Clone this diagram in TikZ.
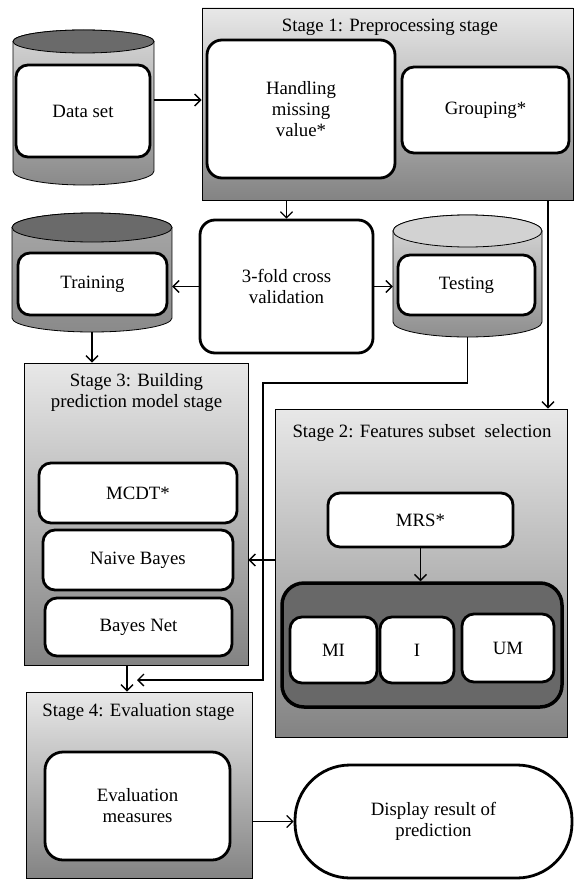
\documentclass[tikz,border=0pt]{standalone}
\usepackage{fontspec}
\setmainfont{Liberation Serif}
\usetikzlibrary{arrows.meta}
\definecolor{stTop}{HTML}{E8E8E8}
\definecolor{stBot}{HTML}{838383}
\definecolor{darkEll}{HTML}{6A6A6A}
\definecolor{dsTop}{HTML}{D6D6D6}
\definecolor{dsBot}{HTML}{8A8A8A}
\definecolor{trTop}{HTML}{A8A8A8}
\definecolor{trBot}{HTML}{8A8A8A}
\definecolor{teEll}{HTML}{D2D2D2}
\definecolor{teTop}{HTML}{DADADA}
\definecolor{teBot}{HTML}{8E8E8E}
\definecolor{contFill}{HTML}{686868}
\begin{document}
\begin{tikzpicture}[x=1pt,y=-1pt,
  every node/.style={font=\fontsize{18.8}{21}\selectfont, inner sep=0pt, align=center},
  sz/.style 2 args={minimum width=#1pt, minimum height=#2pt},
  stagebox/.style={draw=black, line width=0.9pt, top color=stTop, bottom color=stBot},
  inbox/.style={draw=black, line width=2.8pt, rounded corners=12pt, fill=white},
  cylline/.style={draw=black, line width=0.8pt},
  arr/.style={-{Straight Barb[length=6pt,width=12pt,line width=1.3pt]}, line width=1.2pt},
  link/.style={line width=1.2pt}
]
\useasboundingbox (0,0) rectangle (574,880);

% ---------- Stage boxes ----------
\node[stagebox, sz={371}{192}] (st1) at (387.5,104) {};
\node[stagebox, sz={292}{328}] (st2) at (421,573) {};
\node[stagebox, sz={224}{302}] (st3) at (136,514) {};
\node[stagebox, sz={226}{186}] (st4) at (139,785) {};

\node (t1) at (390,27) {Stage 1: Preprocessing stage};
\node (t2) at (422,433) {Stage 2: Features subset~ selection};
\node (t3) at (136.5,393) {Stage 3: Building\\prediction model stage};
\node (t4) at (138.5,712) {Stage 4: Evaluation stage};

% ---------- Cylinders ----------
% Data set
\node[sz={141}{155}] (dsCyl) at (83.5,107.5) {};
\path[cylline, top color=dsTop, bottom color=dsBot]
  (13,41.5) -- (13,171) arc[start angle=180, end angle=0, x radius=70.5, y radius=14]
  -- (154,41.5) arc[start angle=0, end angle=-180, x radius=70.5, y radius=11.5] -- cycle;
\draw[cylline, fill=darkEll] (83.5,41.5) ellipse [x radius=70.5, y radius=11.5];
% Training
\node[sz={160}{119}] (trCyl) at (92,272.5) {};
\path[cylline, top color=trTop, bottom color=trBot]
  (12,227.5) -- (12,318) arc[start angle=180, end angle=0, x radius=80, y radius=14]
  -- (172,227.5) arc[start angle=0, end angle=-180, x radius=80, y radius=14.5] -- cycle;
\draw[cylline, fill=darkEll] (92,227.5) ellipse [x radius=80, y radius=14.5];
% Testing
\node[sz={149}{122}] (teCyl) at (467.5,276) {};
\path[cylline, top color=teTop, bottom color=teBot]
  (393,231) -- (393,322) arc[start angle=180, end angle=0, x radius=74.5, y radius=15]
  -- (542,231) arc[start angle=0, end angle=-180, x radius=74.5, y radius=16] -- cycle;
\draw[cylline, fill=teEll] (467.5,231) ellipse [x radius=74.5, y radius=16];

% ---------- Inner boxes ----------
\node[inbox, sz={134}{92}] (ds) at (83,111) {Data set};
\node[inbox, sz={188}{138}, rounded corners=15pt] (hand) at (301,109) {Handling\\missing\\value*};
\node[inbox, sz={167}{86}] (grp) at (485.5,110) {Grouping*};
\node[inbox, sz={173}{133}, rounded corners=15pt] (tf) at (286.5,286.5) {3-fold cross\\validation};
\node[inbox, sz={149}{62}] (tr) at (92.5,284) {Training};
\node[inbox, sz={137}{60}] (te) at (466.5,285) {Testing};

\node[inbox, sz={198}{60}] (mcdt) at (138,493) {MCDT*};
\node[inbox, sz={190}{60}] (nb) at (138,560) {Naive Bayes};
\node[inbox, sz={187}{58}] (bn) at (138.5,627) {Bayes Net};

\node[inbox, sz={185}{54}] (mrs) at (420.5,520) {MRS*};
\node[draw=black, line width=3.5pt, rounded corners=22pt, fill=contFill, sz={280}{124}] (cont) at (422,645) {};
\node[inbox, sz={87}{66}] (mi) at (333.5,650) {MI};
\node[inbox, sz={74}{66}] (ii) at (417,650) {I};
\node[inbox, sz={92}{68}] (um) at (508,648) {UM};

\node[inbox, sz={185}{108}, rounded corners=18pt] (ev) at (137.5,806) {Evaluation\\measures};
\node[draw=black, line width=2.8pt, fill=white, rounded corners=55pt, sz={277}{113}] (disp) at (433.5,821.5) {Display result of\\prediction};

% ---------- Connectors ----------
\draw[arr] (dsCyl.east |- 0,100) -- (st1.west |- 0,100);
\draw[arr] (tf.north |- st1.south) -- (tf.north);
\draw[arr] (tf.west) -- (trCyl.east |- tf.west);
\draw[arr] (tf.east) -- (teCyl.west |- tf.east);
\draw[arr] (trCyl.south) -- (trCyl.south |- st3.north);
\draw[arr] (st1.south -| 548,0) -- (st2.north -| 548,0);
\draw[arr] (mrs.south) -- (mrs.south |- cont.north);
\draw[arr] (st2.west |- nb) -- (st3.east |- nb);
\coordinate (tp1) at (263,383);
\coordinate (tp2) at (137,680);
\draw[arr] (teCyl.south) |- (tp1) |- (tp2);
\draw[arr] (st3.south -| 127,0) -- (st4.north -| 127,0);
\draw[arr] (st4.east |- disp.west) -- (disp.west);
\end{tikzpicture}
\end{document}
